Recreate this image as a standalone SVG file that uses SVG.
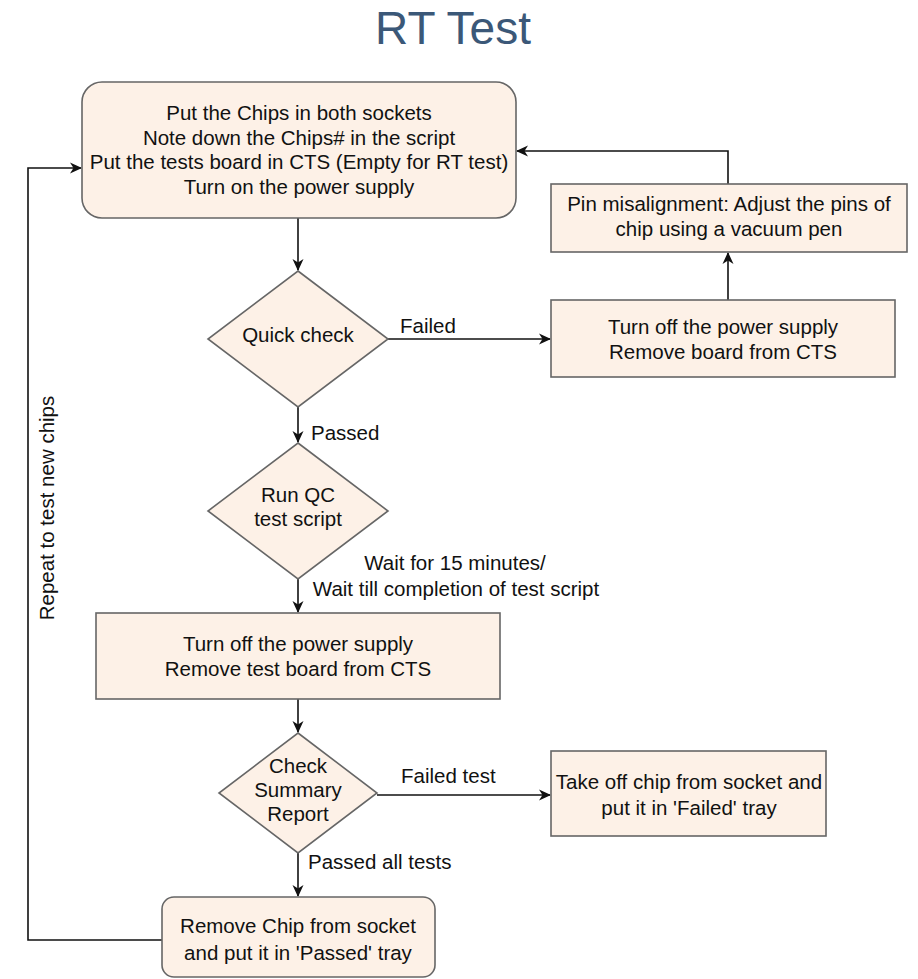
<svg xmlns="http://www.w3.org/2000/svg" width="918" height="979" viewBox="0 0 918 979">
<style>
.n{fill:#fdf1e7;stroke:#666666;stroke-width:1.6}
.t{font-family:"Liberation Sans",Arial,sans-serif;font-size:20.5px;fill:#111111;text-anchor:middle}
.l{font-family:"Liberation Sans",Arial,sans-serif;font-size:20.5px;fill:#111111}
.c{fill:none;stroke:#111111;stroke-width:1.6}
</style>
<defs>
<marker id="a" viewBox="0 0 12 12" refX="11" refY="6" markerWidth="12" markerHeight="12" markerUnits="userSpaceOnUse" orient="auto">
<path d="M0,0.5 L12,6 L0,11.5 L3.5,6 Z" fill="#111111"/>
</marker>
</defs>
<rect width="918" height="979" fill="#ffffff"/>
<text x="453" y="44" font-family="'Liberation Sans',Arial,sans-serif" font-size="46" fill="#3b5878" text-anchor="middle">RT Test</text>

<g id="connectors">
<path class="c" d="M298,218 L298,270" marker-end="url(#a)"/>
<path class="c" d="M388,339 L550,339" marker-end="url(#a)"/>
<path class="c" d="M728,300 L728,253" marker-end="url(#a)"/>
<path class="c" d="M728,184 L728,151 L517,151" marker-end="url(#a)"/>
<path class="c" d="M298,407 L298,442" marker-end="url(#a)"/>
<path class="c" d="M298,579 L298,612" marker-end="url(#a)"/>
<path class="c" d="M298,699 L298,732" marker-end="url(#a)"/>
<path class="c" d="M377,795 L550,795" marker-end="url(#a)"/>
<path class="c" d="M298,853 L298,896" marker-end="url(#a)"/>
<path class="c" d="M162,940 L28,940 L28,168 L81,168" marker-end="url(#a)"/>
<text class="l" x="400" y="333">Failed</text>
<text class="l" x="311" y="440">Passed</text>
<text class="t" x="455" y="570">Wait for 15 minutes/</text>
<text class="t" x="456" y="596">Wait till completion of test script</text>
<text class="l" x="401" y="783">Failed test</text>
<text class="l" x="308" y="869">Passed all tests</text>
<text class="t" transform="translate(54,508) rotate(-90)">Repeat to test new chips</text>
</g>

<g id="start">
<rect class="n" x="82" y="82" width="434" height="136" rx="20"/>
<text class="t" x="299" y="120">Put the Chips in both sockets</text>
<text class="t" x="299" y="144.5">Note down the Chips# in the script</text>
<text class="t" x="299" y="169">Put the tests board in CTS (Empty for RT test)</text>
<text class="t" x="299" y="193.5">Turn on the power supply</text>
</g>

<g id="quick-check">
<polygon class="n" points="298,271 388,339 298,407 208,339"/>
<text class="t" x="298" y="342">Quick check</text>
</g>

<g id="turn-off-1">
<rect class="n" x="551" y="300" width="344" height="77"/>
<text class="t" x="723" y="334">Turn off the power supply</text>
<text class="t" x="723" y="359">Remove board from CTS</text>
</g>

<g id="pin-misalignment">
<rect class="n" x="551" y="184" width="356" height="68"/>
<text class="t" x="729" y="211">Pin misalignment: Adjust the pins of</text>
<text class="t" x="729" y="236">chip using a vacuum pen</text>
</g>

<g id="run-qc">
<polygon class="n" points="298,443 388,511 298,579 208,511"/>
<text class="t" x="298" y="502">Run QC</text>
<text class="t" x="298" y="526">test script</text>
</g>

<g id="turn-off-2">
<rect class="n" x="96" y="613" width="404" height="86"/>
<text class="t" x="298" y="651">Turn off the power supply</text>
<text class="t" x="298" y="676">Remove test board from CTS</text>
</g>

<g id="check-summary">
<polygon class="n" points="298,733 377,793 298,853 219,793"/>
<text class="t" x="298" y="773">Check</text>
<text class="t" x="298" y="797">Summary</text>
<text class="t" x="298" y="821">Report</text>
</g>

<g id="failed-tray">
<rect class="n" x="551" y="751" width="275" height="85"/>
<text class="t" x="689" y="789">Take off chip from socket and</text>
<text class="t" x="689" y="815">put it in 'Failed' tray</text>
</g>

<g id="passed-tray">
<rect class="n" x="162" y="897" width="273" height="80" rx="12"/>
<text class="t" x="298" y="933">Remove Chip from socket</text>
<text class="t" x="298" y="960">and put it in 'Passed' tray</text>
</g>
</svg>
